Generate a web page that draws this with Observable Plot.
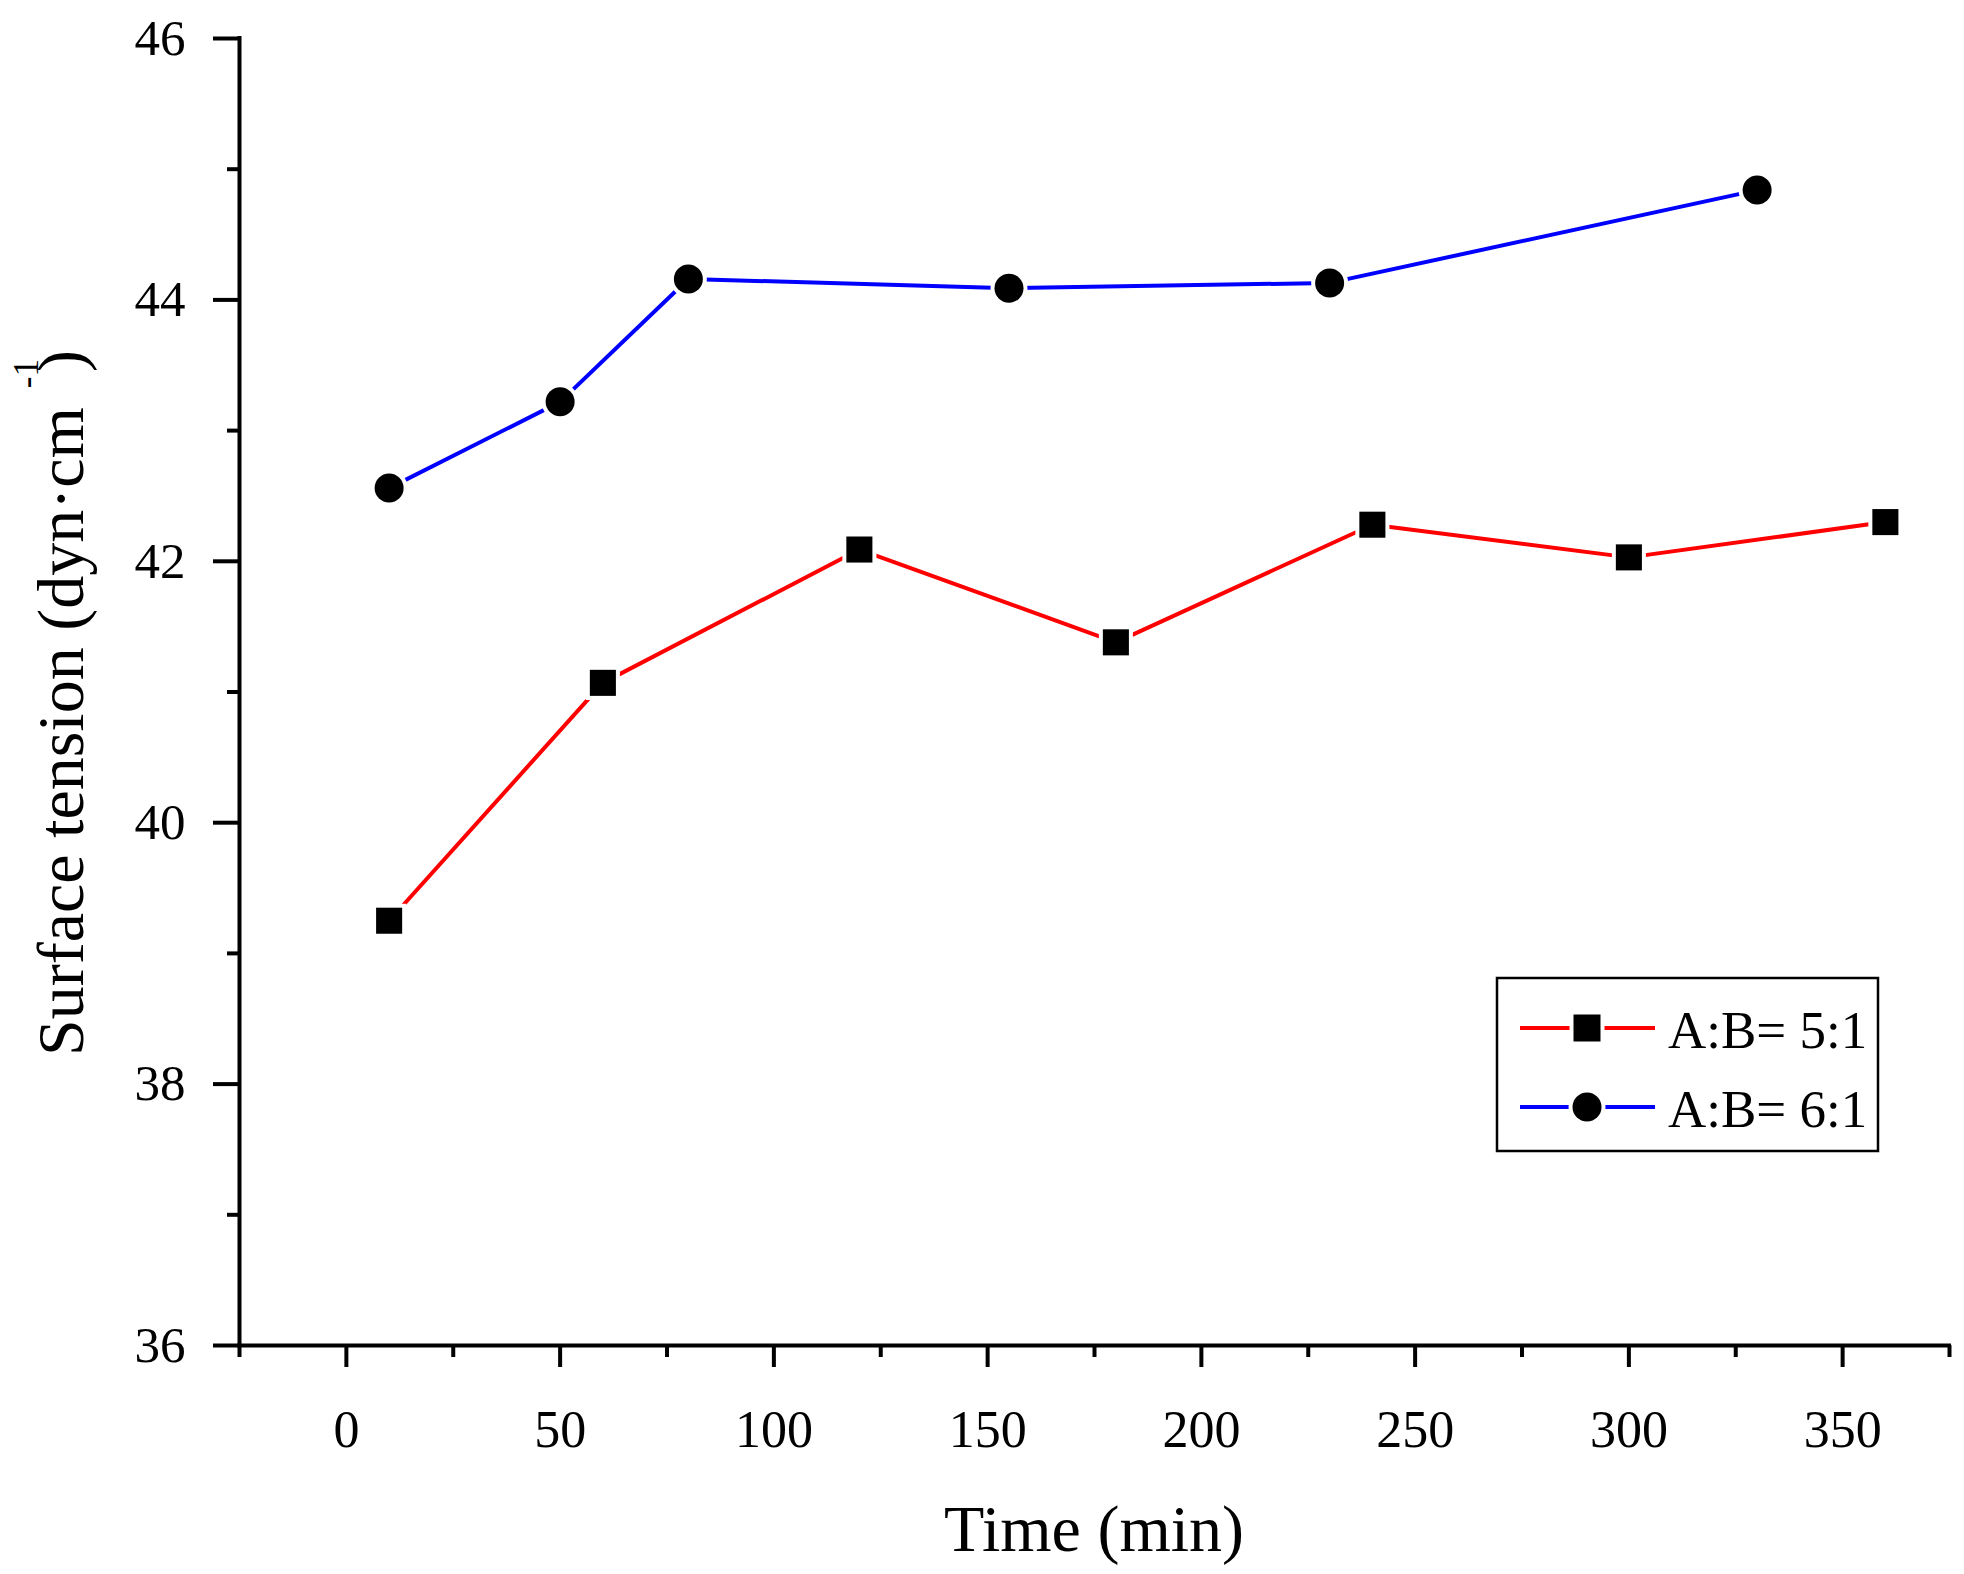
<!DOCTYPE html>
<html>
<head>
<meta charset="utf-8">
<script src="https://cdn.jsdelivr.net/npm/d3@7"></script>
<script src="https://cdn.jsdelivr.net/npm/@observablehq/plot@0.6"></script>
<style>
  html, body { margin: 0; padding: 0; background: white; }
</style>
</head>
<body>
<script>
// ---- data ----
const time51 = [10, 60, 120, 180, 240, 300, 360];
const tension51 = [39.25, 41.07, 42.09, 41.38, 42.28, 42.03, 42.30];
const time61 = [10, 50, 80, 155, 230, 330];
const tension61 = [42.56, 43.22, 44.16, 44.09, 44.13, 44.84];
const seriesLabels = ["A:B= 5:1", "A:B= 6:1"];
const seriesColors = ["#ff0000", "#0000ff"];
const seriesSymbols = ["square", "circle"];
const xMajor = [0, 50, 100, 150, 200, 250, 300, 350];
const xMinor = [-25, 25, 75, 125, 175, 225, 275, 325, 375];
const yMajor = [36, 38, 40, 42, 44, 46];
const yMinor = [37, 39, 41, 43, 45];
const xTitle = "Time (min)";
const yTitleMain = "Surface tension (dyn·cm";
const yTitleSup = "-1";
const yTitleEnd = ")";

const rows51 = time51.map((t, i) => ({time: t, tension: tension51[i]}));
const rows61 = time61.map((t, i) => ({time: t, tension: tension61[i]}));

const font = "'Liberation Serif', 'DejaVu Serif', serif";

const svgNode = Plot.plot({
  width: 1964,
  height: 1574,
  marginLeft: 239,
  marginRight: 15,
  marginTop: 38,
  marginBottom: 229,
  x: {domain: [-25, 375], axis: null, label: null},
  y: {domain: [36, 46], axis: null, label: null},
  style: {fontFamily: font, background: "white", color: "black", overflow: "visible"},
  marks: [
    Plot.ruleY([36], {stroke: "black", strokeWidth: 4, strokeLinecap: "square"}),
    Plot.ruleX([-25], {stroke: "black", strokeWidth: 4, strokeLinecap: "square"}),
    Plot.axisX(xMajor, {anchor: "bottom", tickSize: 22, tickPadding: 43, fontSize: 52, strokeWidth: 4, tickFormat: d => String(d), label: null}),
    Plot.axisX(xMinor, {anchor: "bottom", tickSize: 12, strokeWidth: 4, tickFormat: () => "", label: null}),
    Plot.axisY(yMajor, {anchor: "left", tickSize: 26, tickPadding: 28, fontSize: 51, strokeWidth: 4, tickFormat: d => String(d), label: null}),
    Plot.axisY(yMinor, {anchor: "left", tickSize: 12, strokeWidth: 4, tickFormat: () => "", label: null}),
    Plot.line(rows51, {x: "time", y: "tension", stroke: seriesColors[0], strokeWidth: 4}),
    Plot.line(rows61, {x: "time", y: "tension", stroke: seriesColors[1], strokeWidth: 4}),
    Plot.dot(rows51, {x: "time", y: "tension", symbol: seriesSymbols[0], r: 14.7, fill: "black",
      stroke: "white", strokeWidth: 8, paintOrder: "stroke"}),
    Plot.dot(rows61, {x: "time", y: "tension", symbol: seriesSymbols[1], r: 14.5, fill: "black",
      stroke: "white", strokeWidth: 8, paintOrder: "stroke"})
  ]
});

const svg = d3.select(svgNode);

// x title
svg.append("text")
  .attr("x", 1094).attr("y", 1551)
  .attr("text-anchor", "middle")
  .attr("font-family", font)
  .attr("font-size", 66)
  .attr("fill", "black")
  .text(xTitle);

// y title
const yt = svg.append("text")
  .attr("transform", "translate(83,1056) rotate(-90)")
  .attr("text-anchor", "start")
  .attr("font-family", font)
  .attr("font-size", 66)
  .attr("fill", "black");
yt.append("tspan").text(yTitleMain);
yt.append("tspan").attr("dx", 19).attr("dy", -45).attr("font-size", 35).text(yTitleSup);
yt.append("tspan").attr("dx", -13).attr("dy", 45).text(yTitleEnd);

// legend
const lg = svg.append("g");
lg.append("rect")
  .attr("x", 1497).attr("y", 978).attr("width", 381).attr("height", 173)
  .attr("fill", "white").attr("stroke", "black").attr("stroke-width", 2.5);
const rowY = [1028, 1107];
seriesLabels.forEach((label, i) => {
  const y = rowY[i];
  lg.append("line")
    .attr("x1", 1520).attr("x2", 1655).attr("y1", y).attr("y2", y)
    .attr("stroke", seriesColors[i]).attr("stroke-width", 4);
  const sym = seriesSymbols[i] === "square" ? d3.symbolSquare : d3.symbolCircle;
  const size = seriesSymbols[i] === "square" ? 27 * 27 : Math.PI * 14.5 * 14.5;
  lg.append("path")
    .attr("transform", `translate(1587,${y})`)
    .attr("d", d3.symbol(sym, size)())
    .attr("fill", "black").attr("stroke", "white").attr("stroke-width", 8)
    .attr("paint-order", "stroke");
  lg.append("text")
    .attr("x", 1668).attr("y", y + 20)
    .attr("text-anchor", "start")
    .attr("font-family", font)
    .attr("font-size", 53)
    .attr("fill", "black")
    .text(label);
});

document.body.appendChild(svgNode);
</script>
</body>
</html>
